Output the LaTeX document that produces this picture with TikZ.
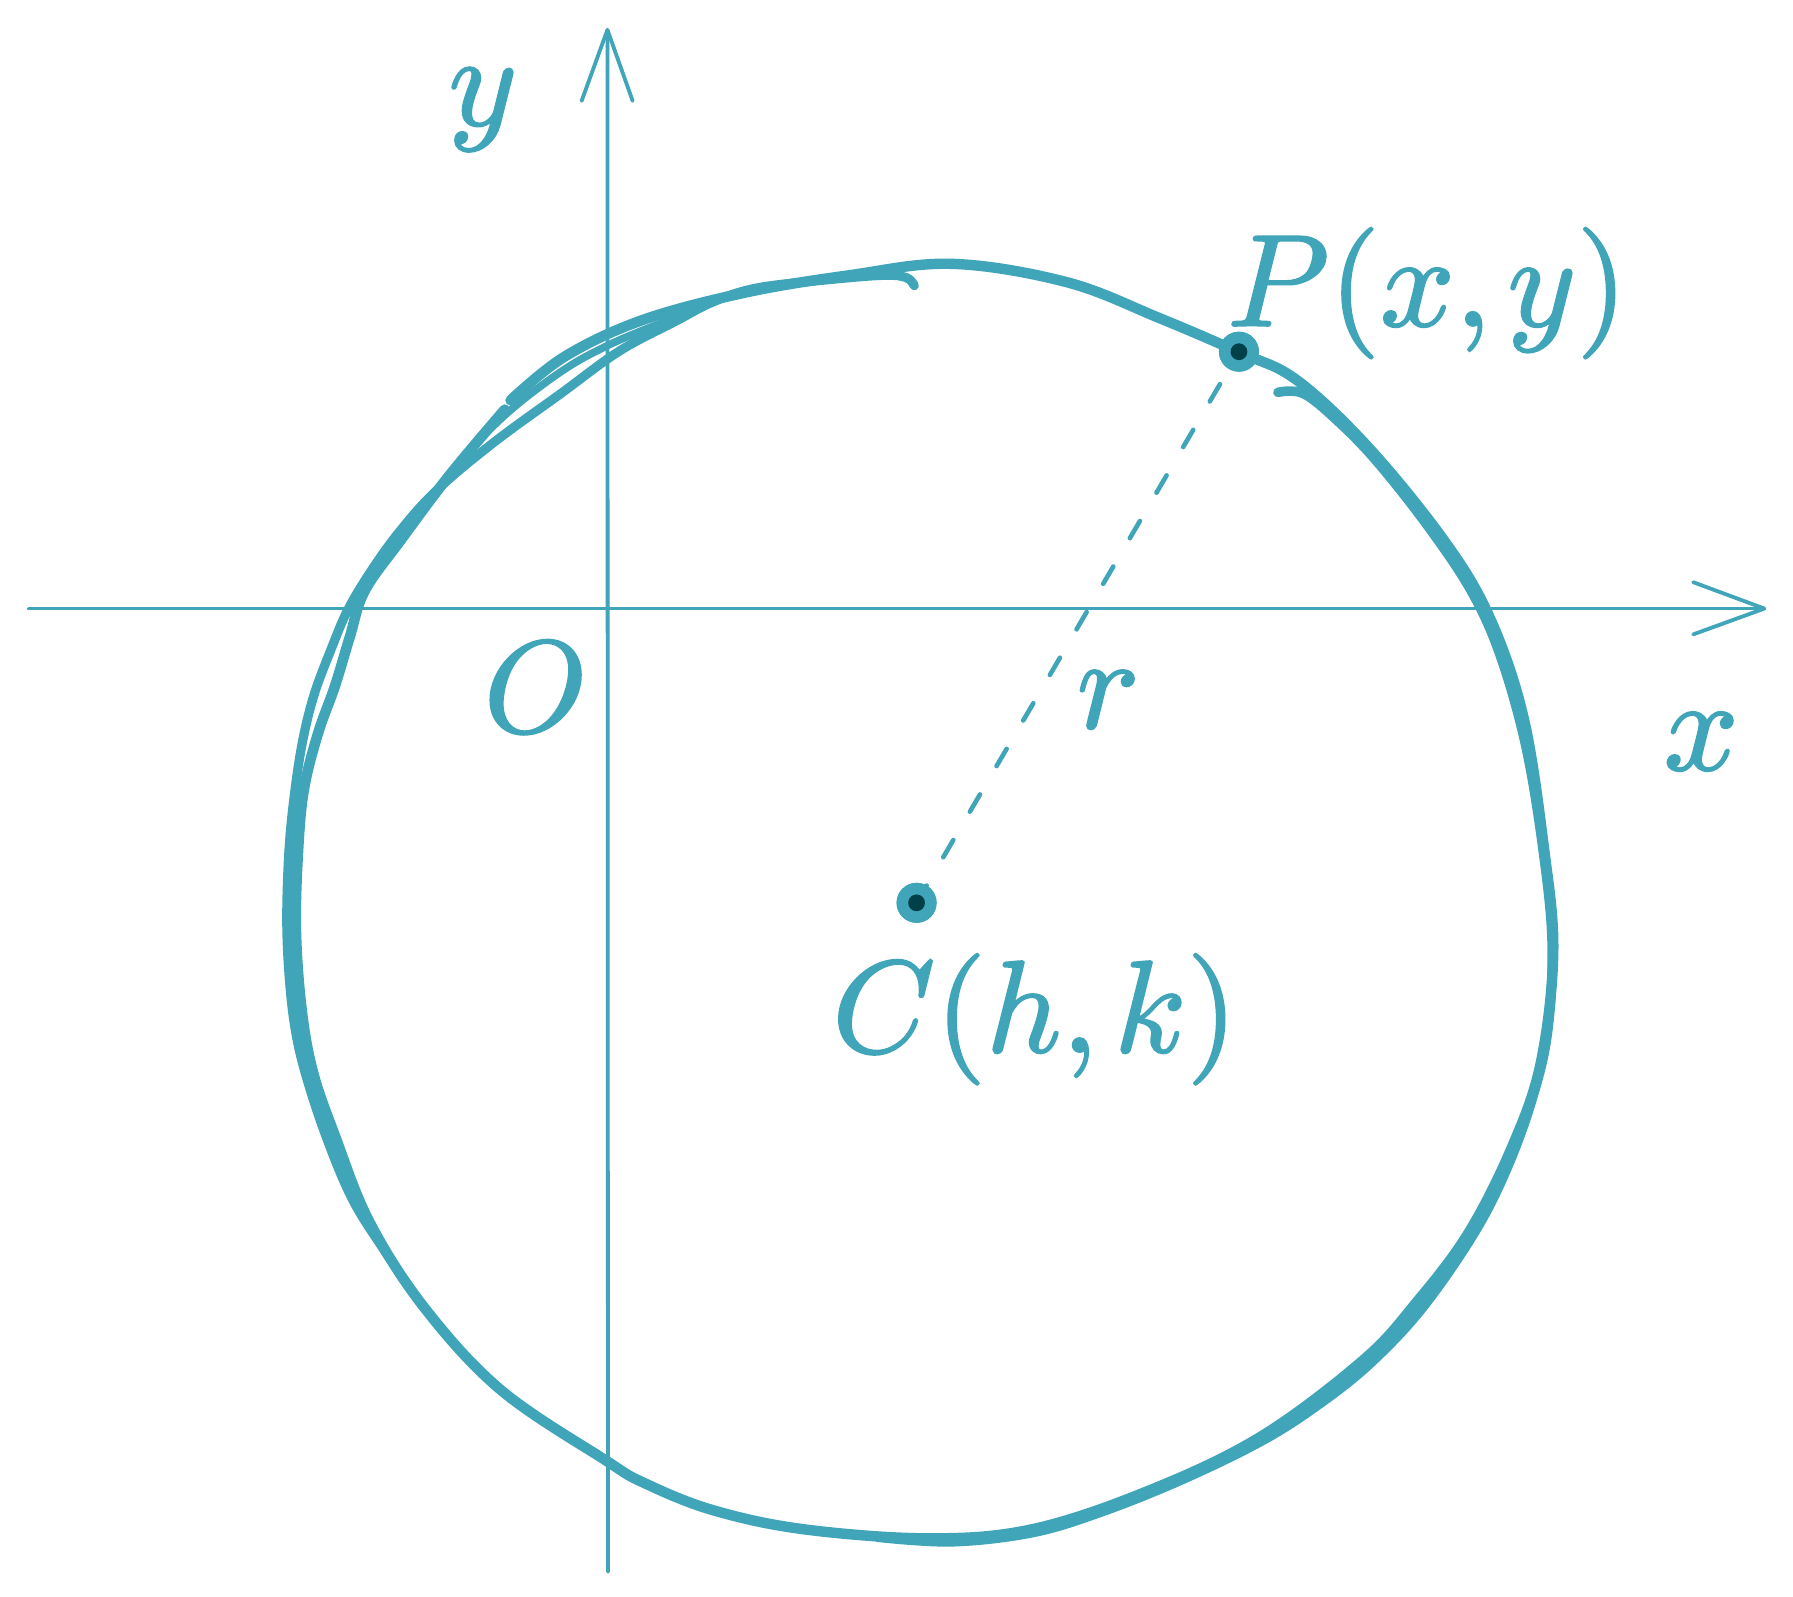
\documentclass[tikz,border=0pt]{standalone}
\DeclareFontFamily{OML}{cmm}{\skewchar\font127 }
\DeclareFontShape{OML}{cmm}{m}{it}{<->cmmi10}{}
\DeclareFontFamily{OT1}{cmr}{\hyphenchar\font45 }
\DeclareFontShape{OT1}{cmr}{m}{n}{<->cmr10}{}
\definecolor{tealA}{RGB}{64,165,184}
\definecolor{darkA}{RGB}{0,64,72}
\newcommand{\thk}[1]{\special{pdf:literal direct 2 Tr 0.5 w}#1\special{pdf:literal direct 0 Tr}}
\begin{document}
\begin{tikzpicture}[x={(0.2868pt,0pt)}, y={(0pt,-0.2868pt)},
  stroke/.style={draw=tealA, line cap=round, line join=round},
  axisline/.style={draw=tealA, line width=0.95pt, line cap=round, line join=round},
  lbl/.style={text=tealA, inner sep=0pt, font=\fontsize{32.7}{39}\selectfont},
  dotouter/.style={circle, fill=tealA, minimum size=10pt, inner sep=0pt},
  dotinner/.style={circle, fill=darkA, minimum size=4.2pt, inner sep=0pt},
  radius line/.style={draw=tealA, line width=1.15pt, line cap=round, dash pattern=on 5pt off 8.2pt}]
\useasboundingbox (0,0) rectangle (1563,1391.3);
% hand drawn circle strokes
\draw[stroke, line width=2.6pt] plot[smooth, tension=0.6] coordinates {
 (445,349) (492,311) (560,279) (650,255) (740,240) (830,230) (930,246) (1010,277) (1080,307) (1130,331) (1192,389) (1258,470) (1298,537) (1328,625) (1346,740) (1354,830) (1343,927) (1318,1000) (1280,1075) (1235,1135) (1188,1186) (1098,1253) (1000,1300) (900,1333) (810,1341) (700,1333) (620,1316) (560,1292) (528,1273) (437,1212) (370,1140) (322,1065) (292,990) (273,935) (263,880) (258,810) (260,740) (265,688) (277,640) (292,598) (305,555) (318,515) (350,470) (392,414) (440,357)};
\draw[stroke, line width=2.3pt] plot[smooth, tension=0.6] coordinates {
 (797,249) (790,242) (770,240) (720,244) (660,251) (622,263) (589,280) (540,306) (489,343) (430,386) (380,428) (347,465) (322,500) (303,532) (289,565) (274,605) (264,645) (257,690) (252,740) (250,800) (252,850) (257,895) (266,935) (284,990) (307,1045) (335,1090) (368,1138)};
\draw[stroke, line width=1.9pt] plot[smooth, tension=0.6] coordinates {
 (600,273) (565,286) (528,302) (492,322) (448,355) (413,389) (382,427) (360,455)};
\draw[stroke, line width=2.4pt] plot[smooth, tension=0.6] coordinates {
 (1114,342) (1136,343) (1165,366) (1200,402) (1245,459) (1283,516) (1308,572) (1330,650) (1345,740) (1353,822) (1349,900) (1335,960) (1313,1020) (1285,1075) (1240,1140) (1195,1188) (1150,1224) (1100,1256) (1030,1290) (960,1318) (900,1336) (830,1344) (765,1340)};
% axes
\coordinate (xs) at (25,530.5);
\coordinate (xe) at (1538,530.5);
\coordinate (xa1) at (1476,507.5);
\coordinate (xa2) at (1476,553);
\coordinate (ys) at (530,1370);
\coordinate (ye) at (529.5,26);
\coordinate (ya1) at (507,88);
\coordinate (ya2) at (551.5,88);
\draw[axisline] (xs) -- (xe);
\draw[axisline] (xa1) -- (xe) -- (xa2);
\draw[axisline] (ys) -- (ye);
\draw[axisline] (ya1) -- (ye) -- (ya2);
% labels
\node[lbl, anchor=base] (ylab) at (421,109) {\thk{$y$}};
\node[lbl, anchor=base] (xlab) at (1483,671) {\thk{$x$}};
\node[lbl, anchor=base] (olab) at (467,638) {\thk{$O$}};
\node[lbl, anchor=base] (rlab) at (966,634.5) {\thk{$r$}};
\node[lbl, anchor=base west] (plab) at (1069,284) {\thk{$P(x,y)$}};
\node[lbl, anchor=base west] (clab) at (725,917) {\thk{$C(h,k)$}};
% points
\node[dotouter] (P) at (1080,306.6) {};
\node[dotouter] (C) at (799,787) {};
\draw[radius line] (C.center) -- (P.center);
\node[dotouter] (P2) at (P) {};
\node[dotouter] (C2) at (C) {};
\node[dotinner] (Pin) at (P) {};
\node[dotinner] (Cin) at (C) {};
\end{tikzpicture}
\end{document}
